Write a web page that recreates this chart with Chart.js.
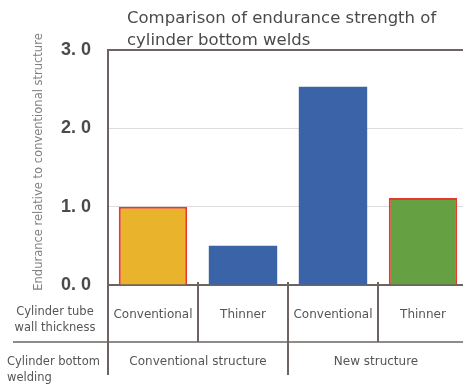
<!DOCTYPE html>
<html>
<head>
<meta charset="utf-8">
<script src="https://cdn.jsdelivr.net/npm/chart.js@4/dist/chart.umd.min.js"></script>
<style>
  html, body { margin: 0; padding: 0; background: #fff; overflow: hidden; }
  #wrap { position: relative; width: 468px; height: 385px; }
</style>
</head>
<body>
<div id="wrap"><canvas id="c" width="468" height="385"></canvas></div>
<script>
// Wall thickness per bar, and the welding structure each pair belongs to
const thickness = ['Conventional', 'Thinner', 'Conventional', 'Thinner'];
const structures = ['Conventional structure', 'New structure'];
const endurance = [1.0, 0.5, 2.53, 1.11];
const yTicks = [0, 1, 2, 3];

const titleLines = ['Comparison of endurance strength of', 'cylinder bottom welds'];
const yTitle = 'Endurance relative to conventional structure';
const rowLabels = [['Cylinder tube', 'wall thickness'], ['Cylinder bottom', 'welding']];

const fills = ['#E9B42B', '#3B64A8', '#3B64A8', '#65A042'];
const edges = ['#E6392B', '#3B64A8', '#3B64A8', '#E6392B'];
const edgeW = [2, 0, 0, 2];

const FONT = "'Liberation Sans', Arial, sans-serif";
const TEXT = "'DejaVu Sans', sans-serif";
const LINE = '#6b6461';

const tablePlugin = {
  id: 'tableRows',
  afterDraw(chart) {
    const ctx = chart.ctx;
    const x = chart.scales.x;
    const area = chart.chartArea;
    const bottom = area.bottom;
    const n = thickness.length;
    const half = (x.getPixelForValue(1) - x.getPixelForValue(0)) / 2;
    const edge = i => x.getPixelForValue(i) - half; // left boundary of category i
    const row1 = bottom + 57;
    const row2 = bottom + 90;

    ctx.save();
    ctx.strokeStyle = LINE;
    ctx.lineWidth = 2;
    // left edge of the table
    ctx.beginPath();
    ctx.moveTo(area.left, bottom);
    ctx.lineTo(area.left, row2);
    ctx.stroke();
    // dividers between thickness cells
    for (let i = 1; i < n; i++) {
      const px = edge(i);
      ctx.beginPath();
      ctx.moveTo(px, bottom - 3);
      ctx.lineTo(px, i === 2 ? row2 : row1);
      ctx.stroke();
    }
    // line between the two rows
    ctx.lineWidth = 1.5;
    ctx.beginPath();
    ctx.moveTo(13, row1);
    ctx.lineTo(chart.width, row1);
    ctx.stroke();

    // second row: structure labels centred over their pair
    ctx.fillStyle = '#555';
    ctx.font = '12px ' + TEXT;
    ctx.textAlign = 'center';
    ctx.textBaseline = 'middle';
    const centres = [edge(1), edge(3) - 2];
    structures.forEach((s, k) => ctx.fillText(s, centres[k], row1 + 20));

    // row headers
    ctx.font = '11.5px ' + TEXT;
    ctx.textAlign = 'center';
    ctx.fillText(rowLabels[0][0], 55, bottom + 27);
    ctx.fillText(rowLabels[0][1], 55, bottom + 43);
    ctx.textAlign = 'left';
    ctx.fillText(rowLabels[1][0], 7, row1 + 20);
    ctx.fillText(rowLabels[1][1], 7, row1 + 36);

    // vertical axis title
    ctx.save();
    ctx.translate(39, 162);
    ctx.rotate(-Math.PI / 2);
    ctx.textAlign = 'center';
    ctx.font = '11.5px ' + TEXT;
    ctx.fillStyle = '#808080';
    ctx.fillText(yTitle, 0, 0);
    ctx.restore();

    // chart title
    ctx.fillStyle = '#4a4a4a';
    ctx.font = '16.5px ' + TEXT;
    ctx.textAlign = 'left';
    ctx.textBaseline = 'alphabetic';
    ctx.fillText(titleLines[0], 127, 23);
    ctx.fillText(titleLines[1], 127, 45);
    ctx.restore();
  }
};

new Chart(document.getElementById('c'), {
  type: 'bar',
  data: {
    labels: thickness,
    datasets: [{
      data: endurance,
      backgroundColor: fills,
      borderColor: edges,
      borderWidth: edgeW,
      borderSkipped: 'bottom',
      barPercentage: 0.76,
      categoryPercentage: 1.0
    }]
  },
  options: {
    responsive: false,
    animation: false,
    layout: { padding: { top: 50, left: 0, right: 0, bottom: 0 } },
    plugins: { legend: { display: false }, tooltip: { enabled: false }, title: { display: false } },
    scales: {
      y: {
        min: 0, max: 3,
        afterFit(s) { s.width = 108; },
        afterBuildTicks(s) { s.ticks = yTicks.map(v => ({ value: v })); },
        ticks: {
          padding: 17,
          color: '#4a4a4a',
          font: { family: FONT, size: 18, weight: 'bold' },
          callback: v => v.toFixed(1).replace('.', '. ')
        },
        grid: {
          drawTicks: false,
          color: ctx => ctx.tick && ctx.tick.value === 3 ? LINE : '#dddddd',
          lineWidth: ctx => ctx.tick && ctx.tick.value === 3 ? 2 : 1
        },
        border: { color: LINE, width: 2 }
      },
      x: {
        afterFit(s) { s.height = 100; },
        ticks: {
          padding: 15,
          color: '#555',
          font: { family: TEXT, size: 12 }
        },
        grid: { display: false },
        border: { color: LINE, width: 2 }
      }
    }
  },
  plugins: [tablePlugin]
});
</script>
</body>
</html>
